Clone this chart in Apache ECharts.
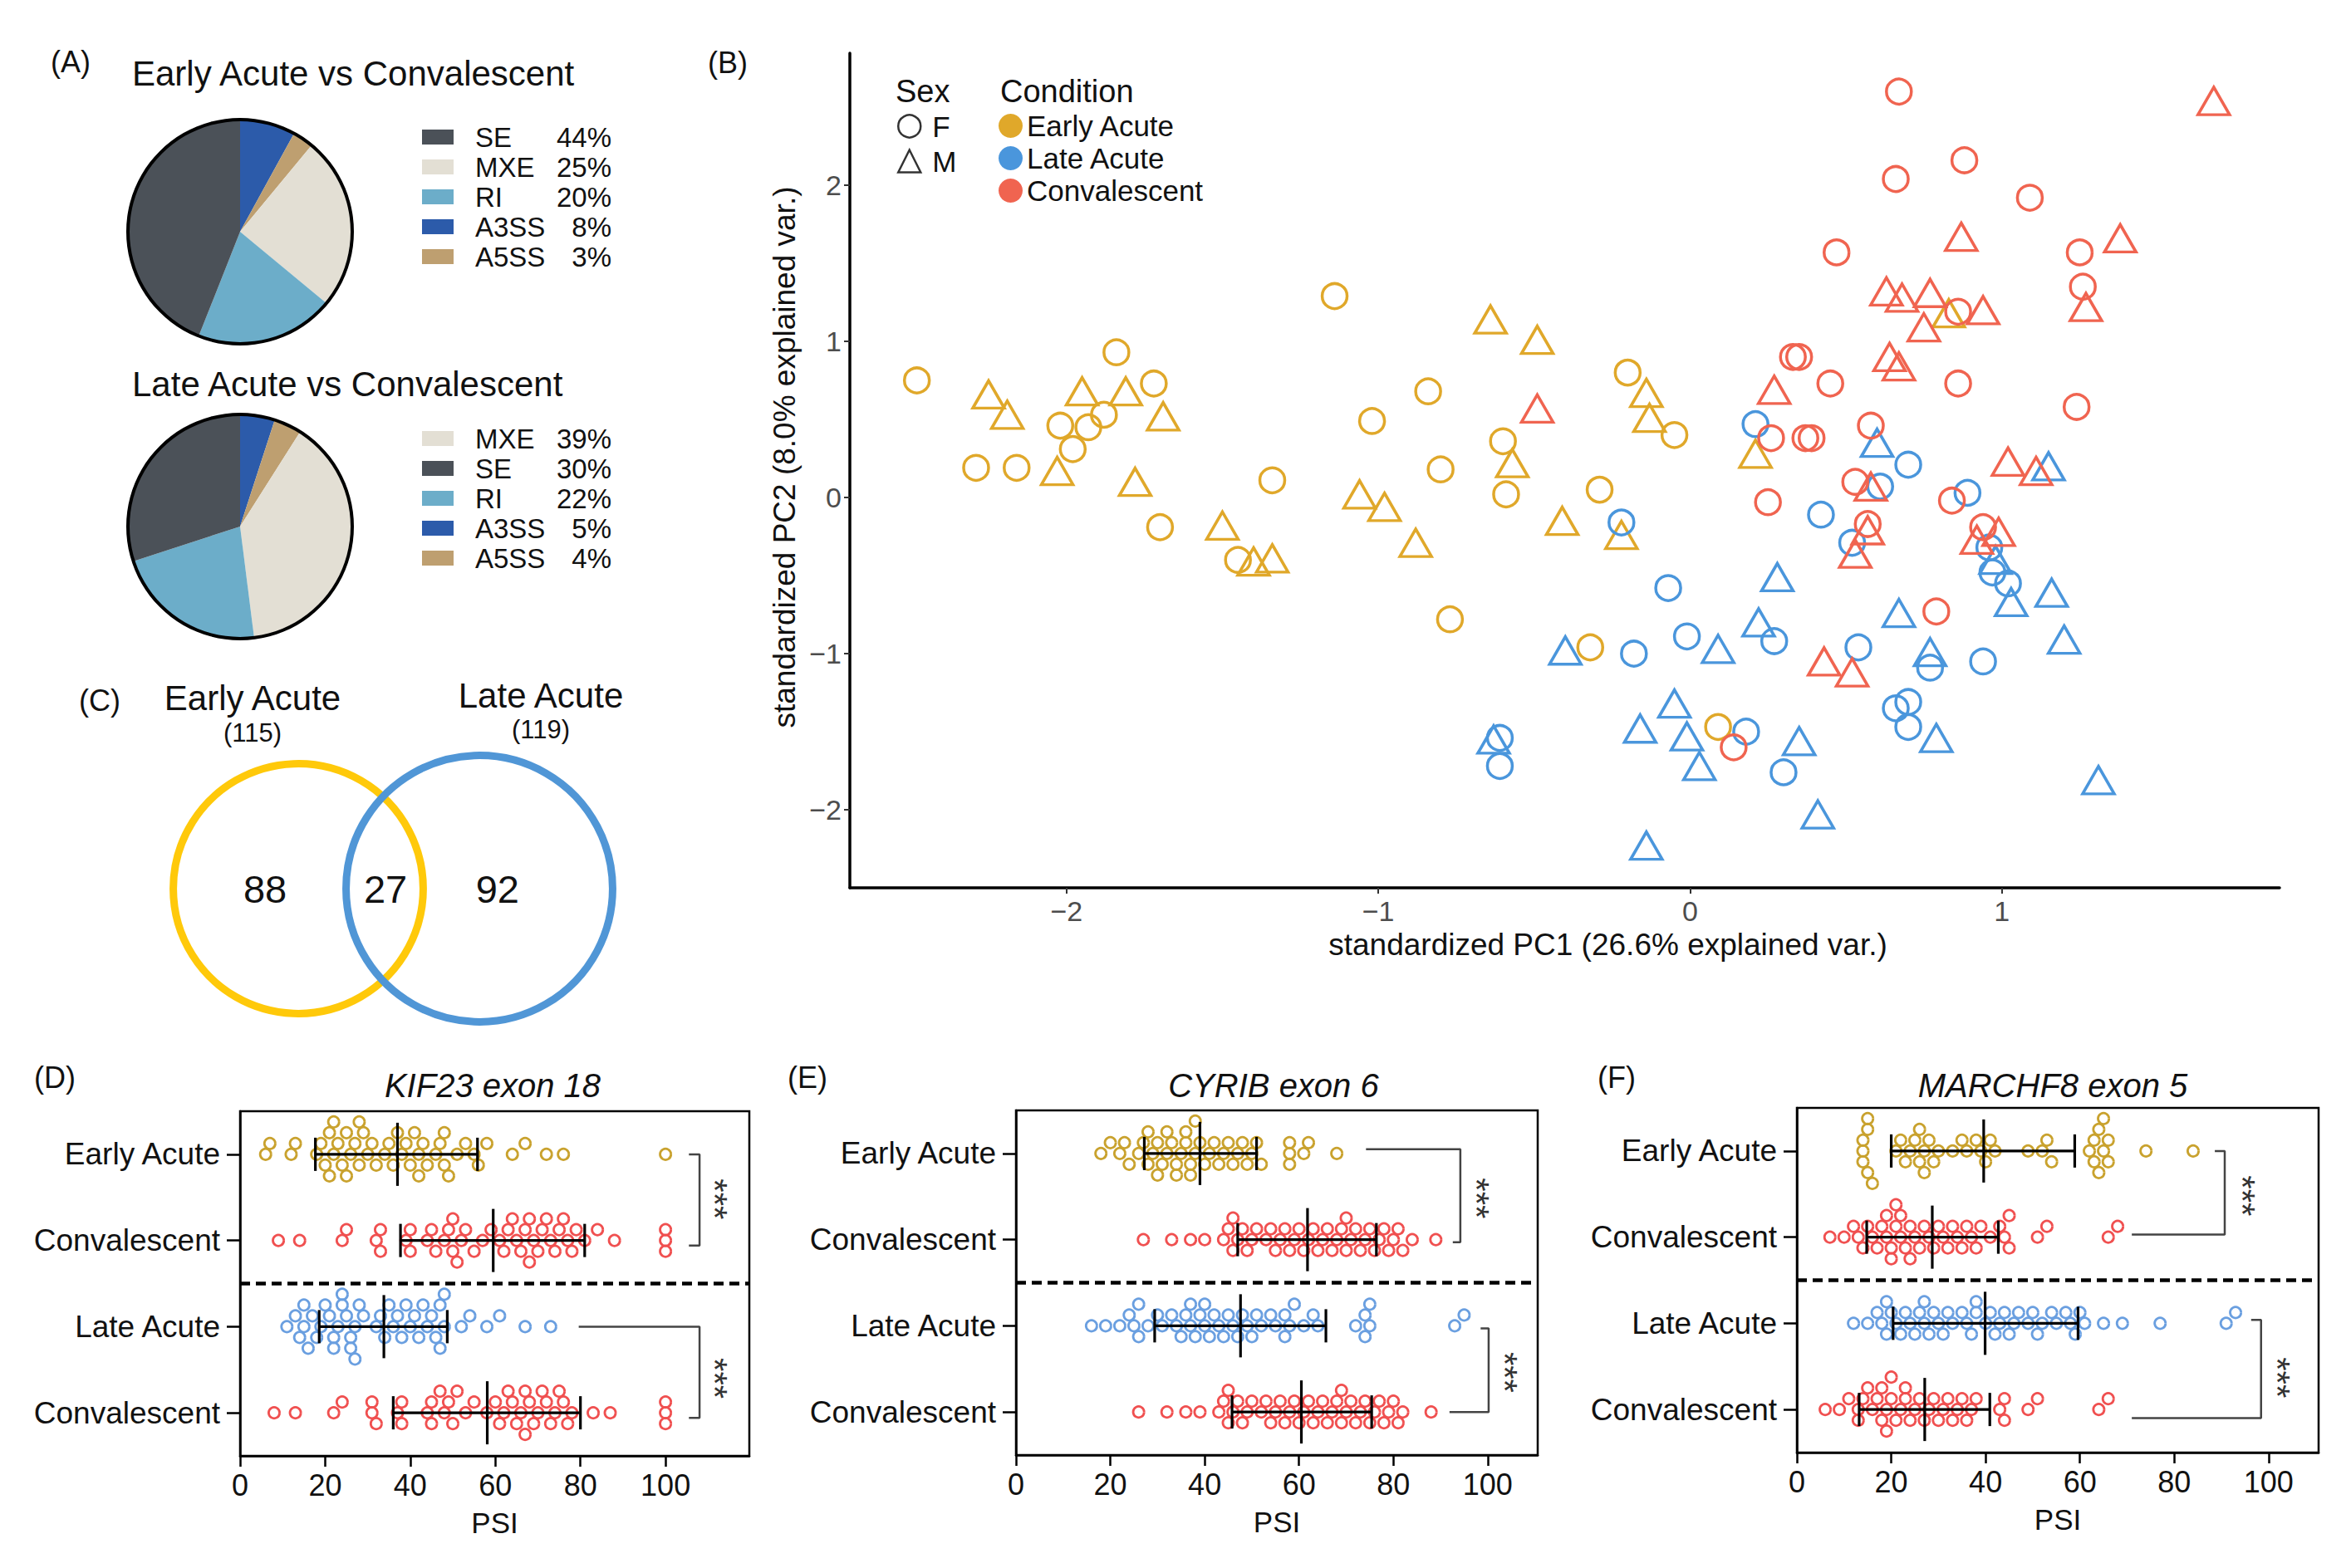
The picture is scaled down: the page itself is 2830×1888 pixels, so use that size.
<!DOCTYPE html>
<html>
<head>
<meta charset="utf-8">
<title>Figure</title>
<script src="https://cdn.jsdelivr.net/npm/echarts@6.0.0/dist/echarts.min.js"></script>
<style>
html,body{margin:0;padding:0;background:#ffffff;}
#chart{width:2830px;height:1888px;}
</style>
</head>
<body>
<div id="chart"></div>
<script>
// ================= DATA =================
// (A) splicing event types, slice order clockwise from 12 o'clock
const spliceTypes = ['A3SS', 'A5SS', 'MXE', 'RI', 'SE'];
const earlyVsConvPct = [8, 3, 25, 20, 44];
const lateVsConvPct = [5, 4, 39, 22, 30];
const legendOrderEarly = ['SE', 'MXE', 'RI', 'A3SS', 'A5SS'];
const legendOrderLate = ['MXE', 'SE', 'RI', 'A3SS', 'A5SS'];

// (B) PCA
const conditions = ['Early Acute', 'Late Acute', 'Convalescent'];
const sexes = ['F', 'M'];
const pcaXTicks = [-2, -1, 0, 1];
const pcaYTicks = [-2, -1, 0, 1, 2];
const earlyAcuteF = [[-2.48,0.75],[-1.84,0.93],[-1.72,0.73],[-2.02,0.46],[-1.93,0.45],[-1.88,0.53],[-1.98,0.31],[-2.29,0.19],[-2.16,0.19],[-1.14,1.29],[-0.84,0.68],[-1.02,0.49],[-1.34,0.11],[-0.80,0.18],[-0.60,0.36],[-0.59,0.02],[-1.70,-0.19],[-1.45,-0.40],[-0.77,-0.78],[-0.20,0.80],[-0.05,0.40],[-0.29,0.05],[-0.32,-0.96],[0.09,-1.47]];
const earlyAcuteM = [[-2.25,0.66],[-2.19,0.53],[-1.95,0.68],[-1.81,0.68],[-1.69,0.52],[-2.03,0.17],[-1.78,0.10],[-0.64,1.14],[-0.49,1.01],[-0.57,0.22],[-1.50,-0.18],[-1.40,-0.41],[-1.34,-0.39],[-1.06,0.02],[-0.98,-0.06],[-0.88,-0.29],[-0.41,-0.15],[-0.14,0.67],[-0.13,0.51],[0.21,0.28],[0.83,1.18],[-0.22,-0.24]];
const lateAcuteF = [[-0.22,-0.16],[-0.07,-0.58],[0.42,-0.11],[0.52,-0.29],[0.61,0.07],[0.70,0.21],[0.89,0.03],[0.96,-0.32],[0.97,-0.48],[1.02,-0.55],[0.54,-0.96],[0.77,-1.09],[0.94,-1.05],[-0.01,-0.89],[-0.18,-1.00],[0.27,-0.92],[0.18,-1.50],[0.30,-1.76],[0.66,-1.35],[0.70,-1.31],[0.70,-1.47],[-0.61,-1.54],[-0.61,-1.72],[0.21,0.47]];
const lateAcuteM = [[0.28,-0.51],[0.98,-0.40],[1.03,-0.67],[1.16,-0.61],[1.20,-0.91],[1.15,0.20],[0.67,-0.74],[0.77,-0.99],[0.09,-0.97],[0.22,-0.80],[-0.05,-1.32],[-0.16,-1.48],[-0.01,-1.53],[0.03,-1.72],[0.35,-1.56],[0.79,-1.54],[1.31,-1.81],[0.41,-2.03],[-0.14,-2.23],[-0.40,-0.98],[-0.63,-1.55],[0.60,0.35]];
const convalescentF = [[0.67,2.60],[0.88,2.16],[0.66,2.04],[1.09,1.92],[0.47,1.57],[1.25,1.57],[1.26,1.35],[0.86,1.19],[0.33,0.90],[0.35,0.90],[0.45,0.73],[0.86,0.73],[1.24,0.58],[0.26,0.38],[0.37,0.38],[0.39,0.38],[0.58,0.46],[0.53,0.10],[0.25,-0.03],[0.84,-0.02],[0.57,-0.17],[0.94,-0.19],[0.79,-0.73],[0.14,-1.60]];
const convalescentM = [[1.68,2.54],[0.87,1.67],[1.38,1.66],[1.27,1.22],[0.63,1.32],[0.68,1.28],[0.77,1.31],[0.75,1.09],[0.94,1.20],[0.64,0.90],[0.67,0.84],[0.27,0.69],[1.02,0.23],[1.11,0.17],[0.58,0.07],[0.57,-0.21],[0.53,-0.36],[0.99,-0.22],[0.92,-0.27],[0.43,-1.05],[0.52,-1.12],[-0.49,0.57]];

// (C) Venn
const vennSets = ['Early Acute', 'Late Acute'];
const vennTotals = [115, 119];
const vennCounts = [88, 27, 92]; // early only, shared, late only

// (D)(E)(F) PSI dot plots
const dotCategories = ['Early Acute', 'Convalescent', 'Late Acute', 'Convalescent'];
const psiTicks = [0, 20, 40, 60, 80, 100];
const sigLabels = ['***', '***'];

const kif23EarlyAcute = [6,7,12,13,18,19,20,21,21,22,22,23,24,25,25,26,27,28,28,29,30,31,32,34,35,36,37,38,39,40,41,42,42,43,44,46,47,48,48,49,51,53,55,56,58,64,67,72,76,100];
const kif23ConvA = [9,14,24,25,32,33,33,39,40,40,44,45,46,48,49,50,50,51,52,53,55,57,59,61,62,63,64,65,66,67,68,68,69,70,71,72,73,74,75,76,77,78,79,81,84,88,100,100,100];
const kif23LateAcute = [11,13,14,15,15,16,17,18,19,20,21,22,22,23,24,24,25,26,26,27,27,28,29,32,33,34,35,36,37,38,39,40,41,42,43,44,45,46,47,47,48,48,52,54,58,61,67,73];
const kif23ConvB = [8,13,22,24,31,31,32,37,38,38,44,45,45,47,48,49,50,51,53,55,58,60,61,62,63,64,65,66,67,67,68,69,70,71,72,73,74,75,76,77,78,83,87,100,100,100];
const kif23Stats = [[37,17.7,55.8],[59.5,37.7,81],[33.8,18.6,48.7],[58.1,36,80]]; // mean, mean-SD, mean+SD

const cyribEarlyAcute = [18,20,22,23,24,26,27,28,28,29,30,30,31,32,32,33,34,34,35,36,36,37,37,38,38,39,40,41,42,43,44,45,46,47,48,49,50,51,52,58,58,58,61,62,68];
const cyribConvA = [27,33,37,40,44,45,46,46,47,48,49,50,51,53,54,55,56,57,58,59,60,61,62,63,64,65,66,67,68,69,70,70,71,72,73,74,75,76,77,78,79,80,81,82,84,89];
const cyribLateAcute = [16,19,22,24,25,26,26,28,30,31,33,34,35,36,37,37,38,39,40,40,41,42,43,44,45,46,47,48,49,50,51,52,54,55,57,57,58,59,61,63,64,72,74,74,75,75,93,95];
const cyribConvB = [26,32,36,39,43,44,45,45,46,47,48,49,50,52,53,54,55,56,57,58,59,60,61,62,63,64,65,66,67,68,69,69,70,71,72,73,74,75,76,77,78,79,80,81,82,88];
const cyribStats = [[39,27.2,51],[61.8,47,76.4],[47.6,29.4,65.7],[60.5,45.8,75.4]];

const marchf8EarlyAcute = [14,14,14,15,15,15,16,21,22,23,24,25,26,26,27,27,28,29,30,33,35,36,38,39,40,41,42,49,52,53,54,62,63,63,64,64,65,65,66,66,74,84];
const marchf8ConvA = [7,10,12,13,14,15,16,17,18,19,19,20,20,21,21,22,22,23,24,24,25,26,27,28,29,30,31,32,33,34,35,36,37,38,39,41,43,44,45,45,51,53,66,68];
const marchf8LateAcute = [12,15,17,18,19,19,20,21,22,23,24,25,26,27,27,28,29,30,31,32,33,35,36,37,38,38,40,41,42,43,44,45,46,47,49,50,51,52,54,55,57,58,59,60,61,65,69,77,91,93];
const marchf8ConvB = [6,9,11,13,13,14,15,16,17,18,18,19,19,20,20,21,22,23,23,24,25,26,27,28,29,30,31,32,33,34,35,36,37,38,43,44,44,49,51,64,66];
const marchf8Stats = [[39.6,20,58.9],[28.7,14.8,42.7],[39.9,20.4,59.6],[27.1,13.2,40.9]];

// ================= LAYOUT & STYLE =================
const FONT = "'Liberation Sans', Arial, Helvetica, sans-serif";
const INK = '#111111';
const pieColors = { SE: '#4B5158', MXE: '#E3DFD4', RI: '#6CADC9', A3SS: '#2C5BAA', A5SS: '#BE9F70' };
const pcaColors = ['#E0A82A', '#4A96DC', '#F06450'];
const dotColors = ['#C9A22E', '#F05050', '#6A9FE0', '#F05050'];
const vennColors = ['#FFC90A', '#5096D6'];

const panels = [
  { title: 'KIF23 exon 18', titleX: 593, label: '(D)', labelX: 66, grid: { left: 289, top: 1338, width: 613, height: 415 }, max: 119.7,
    groups: [kif23EarlyAcute, kif23ConvA, kif23LateAcute, kif23ConvB], stats: kif23Stats,
    brackets: [[[105.5,0],[108,0],[108,1.06],[105.5,1.06]], [[79.6,2],[108,2],[108,3.06],[105.5,3.06]]],
    stars: [[111.5,0.52],[111.5,2.6]] },
  { title: 'CYRIB exon 6', titleX: 1533, label: '(E)', labelX: 972, grid: { left: 1223, top: 1337, width: 628, height: 415 }, max: 110.6,
    groups: [cyribEarlyAcute, cyribConvA, cyribLateAcute, cyribConvB], stats: cyribStats,
    brackets: [[[74.2,-0.05],[94.2,-0.05],[94.2,1.03],[92.6,1.03]], [[98.5,2.03],[100.2,2.03],[100.2,3.0],[91.9,3.0]]],
    stars: [[97.7,0.52],[103.6,2.54]] },
  { title: 'MARCHF8 exon 5', titleX: 2471, label: '(F)', labelX: 1946, grid: { left: 2163, top: 1334, width: 628, height: 415 }, max: 110.6,
    groups: [marchf8EarlyAcute, marchf8ConvA, marchf8LateAcute, marchf8ConvB], stats: marchf8Stats,
    brackets: [[[88.6,0],[90.7,0],[90.7,0.97],[71,0.97]], [[96.3,1.96],[98.4,1.96],[98.4,3.1],[71,3.1]]],
    stars: [[94.4,0.52],[101.8,2.63]] }
];

const DOT_R = 6.6, ROW_STEP = 13, MIN_GAP = 16.5;
const VENN_R = [0.690, 0.736];       // radius in axis units
const VENN_COUNT_X = [-0.183, 0.482, 1.10];

// beeswarm-style vertical spreading of points with (nearly) equal values
function swarm(vals, pxPerUnit) {
  const order = vals.map((v, i) => i).sort((a, b) => vals[a] - vals[b]);
  const lastInRow = {};
  const offs = new Array(vals.length).fill(0);
  order.forEach(i => {
    const x = vals[i] * pxPerUnit;
    for (let k = 0; k < 40; k++) {
      const r = k === 0 ? 0 : (k % 2 ? -Math.ceil(k / 2) : Math.ceil(k / 2));
      const last = lastInRow[r];
      if (last === undefined || x - last >= MIN_GAP) { lastInRow[r] = x; offs[i] = r; break; }
    }
  });
  return offs;
}

function minusFmt(v) { return v < 0 ? '\u2212' + Math.abs(v) : String(v); }

function txt(x, y, text, size, align, italic) {
  return { type: 'text', x: x, y: y, silent: true, z: 10,
    style: { text: text, fontSize: size, fontFamily: FONT, fill: INK, fontStyle: italic ? 'italic' : 'normal',
      align: align || 'left', verticalAlign: 'middle', textAlign: align || 'left', textVerticalAlign: 'middle' } };
}

const chart = echarts.init(document.getElementById('chart'), null, { renderer: 'svg', width: 2830, height: 1888 });

const grids = [], xAxes = [], yAxes = [], series = [], legends = [];

// ---------- (A) pies ----------
function addPie(center, pct) {
  series.push({ type: 'pie', center: center, radius: [0, 134], startAngle: 90, clockwise: true, silent: true,
    label: { show: false }, labelLine: { show: false }, emphasis: { disabled: true }, itemStyle: { borderWidth: 0 },
    data: spliceTypes.map((n, i) => ({ name: n, value: pct[i], itemStyle: { color: pieColors[n] } })) });
  series.push({ type: 'pie', center: center, radius: [133, 137], silent: true, label: { show: false }, labelLine: { show: false },
    emphasis: { disabled: true }, data: [{ name: 'outline', value: 1, itemStyle: { color: '#000' } }] });
}
addPie([289, 279], earlyVsConvPct);
addPie([289, 634], lateVsConvPct);

function pieLegend(top, order, pct) {
  return { orient: 'vertical', left: 508, top: top, padding: 0, itemWidth: 38, itemHeight: 18, itemGap: 0, icon: 'rect',
    selectedMode: false, data: order,
    formatter: name => '{n|' + name + '}{p|' + pct[spliceTypes.indexOf(name)] + '%}',
    textStyle: { fontFamily: FONT, fontSize: 33, color: INK, lineHeight: 36,
      rich: { n: { width: 100, padding: [0, 0, 0, 21], fontSize: 33, fontFamily: FONT, color: INK, lineHeight: 36 },
              p: { width: 64, align: 'right', fontSize: 33, fontFamily: FONT, color: INK, lineHeight: 36 } } } };
}
legends.push(pieLegend(147, legendOrderEarly, earlyVsConvPct));
legends.push(pieLegend(510, legendOrderLate, lateVsConvPct));

// ---------- (B) PCA ----------
grids.push({ left: 1023, top: 64, width: 1721, height: 1005, outerBoundsMode: 'none', containLabel: false });
xAxes.push({ gridIndex: 0, type: 'value', min: -2.695, max: 1.891,
  axisLine: { show: true, onZero: false, lineStyle: { color: '#000', width: 3.5 } },
  axisTick: { show: true, customValues: pcaXTicks, length: 7, lineStyle: { color: '#333', width: 2 } },
  axisLabel: { show: true, customValues: pcaXTicks, formatter: minusFmt, fontSize: 34, fontFamily: FONT, color: '#4D4D4D', margin: 11 },
  splitLine: { show: false },
  name: 'standardized PC1 (26.6% explained var.)', nameLocation: 'middle', nameGap: 49,
  nameTextStyle: { fontSize: 37, fontFamily: FONT, color: INK, padding: [0, 0, 0, 104] } });
yAxes.push({ gridIndex: 0, type: 'value', min: -2.5, max: 2.846,
  axisLine: { show: true, onZero: false, lineStyle: { color: '#000', width: 3.5 } },
  axisTick: { show: true, customValues: pcaYTicks, length: 7, lineStyle: { color: '#333', width: 2 } },
  axisLabel: { show: true, customValues: pcaYTicks, formatter: minusFmt, fontSize: 34, fontFamily: FONT, color: '#4D4D4D', margin: 10 },
  splitLine: { show: false },
  name: 'standardized PC2 (8.0% explained var.)', nameLocation: 'middle', nameGap: 58,
  nameTextStyle: { fontSize: 37, fontFamily: FONT, color: INK, padding: [0, 0, 0, 32] } });

const pcaSets = [[earlyAcuteF, earlyAcuteM], [lateAcuteF, lateAcuteM], [convalescentF, convalescentM]];
pcaSets.forEach((set, ci) => {
  const data = set[0].map(p => ({ value: p, symbol: 'circle', symbolSize: 30 }))
    .concat(set[1].map(p => ({ value: p, symbol: 'triangle', symbolSize: [38, 33] })));
  series.push({ type: 'scatter', name: conditions[ci], xAxisIndex: 0, yAxisIndex: 0, data: data, z: 3,
    itemStyle: { color: 'rgba(0,0,0,0)', borderColor: pcaColors[ci], borderWidth: 3.5, opacity: 1 },
    emphasis: { disabled: true }, silent: true });
});
sexes.forEach((s, i) => {
  series.push({ type: 'scatter', name: s, xAxisIndex: 0, yAxisIndex: 0, data: [], symbol: i === 0 ? 'circle' : 'triangle',
    itemStyle: { color: 'rgba(0,0,0,0)', borderColor: '#000', borderWidth: 2.5 } });
});
legends.push({ orient: 'vertical', left: 1202, top: 132, padding: 0, itemWidth: 29, itemHeight: 29, itemGap: 0,
  selectedMode: false, icon: 'circle',
  data: conditions.map((c, i) => ({ name: c, icon: 'circle', itemStyle: { color: pcaColors[i], borderWidth: 0 } })),
  textStyle: { fontFamily: FONT, fontSize: 35, color: INK, lineHeight: 39 } });
legends.push({ orient: 'vertical', left: 1080, top: 131, padding: 0, itemWidth: 27, itemHeight: 27, itemGap: 0,
  selectedMode: false,
  data: sexes.map((s, i) => ({ name: s, icon: i === 0 ? 'circle' : 'triangle',
    itemStyle: { color: 'rgba(0,0,0,0)', borderColor: '#000', borderWidth: 2.5 } })),
  formatter: n => '{t|' + n + '}',
  textStyle: { fontFamily: FONT, fontSize: 35, color: INK, lineHeight: 42,
    rich: { t: { padding: [0, 0, 0, 9], fontSize: 35, fontFamily: FONT, color: INK, lineHeight: 42 } } } });

// ---------- (D)(E)(F) dot plots ----------
panels.forEach((pn, pi) => {
  const g = grids.length;
  grids.push(Object.assign({ show: true, borderColor: '#000', borderWidth: 2.5, backgroundColor: 'rgba(0,0,0,0)',
    outerBoundsMode: 'none', containLabel: false }, pn.grid));
  xAxes.push({ gridIndex: g, type: 'value', min: 0, max: pn.max,
    axisLine: { show: true, onZero: false, lineStyle: { color: '#000', width: 2.5 } },
    axisTick: { show: true, customValues: psiTicks, length: 13, lineStyle: { color: '#000', width: 2.5 } },
    axisLabel: { show: true, customValues: psiTicks, fontSize: 36, fontFamily: FONT, color: INK, margin: 17 },
    splitLine: { show: false },
    name: 'PSI', nameLocation: 'middle', nameGap: 63, nameTextStyle: { fontSize: 35, fontFamily: FONT, color: INK } });
  yAxes.push({ gridIndex: g, type: 'value', inverse: true, min: -0.5, max: 3.5,
    axisLine: { show: true, onZero: false, lineStyle: { color: '#000', width: 2.5 } },
    axisTick: { show: true, customValues: [0, 1, 2, 3], length: 16, lineStyle: { color: '#000', width: 2.5 } },
    axisLabel: { show: true, customValues: [0, 1, 2, 3], formatter: v => dotCategories[Math.round(v)],
      fontSize: 37, fontFamily: FONT, color: INK, margin: 24 },
    splitLine: { show: false } });

  const pxPerUnit = pn.grid.width / pn.max;
  const dots = [];
  pn.groups.forEach((vals, row) => {
    const offs = swarm(vals, pxPerUnit);
    vals.forEach((v, i) => dots.push([v, row, offs[i]]));
  });
  series.push({ type: 'custom', xAxisIndex: g, yAxisIndex: g, data: dots, z: 2, silent: true,
    encode: { x: 0, y: 1 },
    renderItem: (params, api) => {
      const row = api.value(1);
      const p = api.coord([api.value(0), row]);
      return { type: 'circle', shape: { cx: p[0], cy: p[1] + api.value(2) * ROW_STEP, r: DOT_R },
        style: { fill: 'none', stroke: dotColors[row], lineWidth: 2.8 } };
    } });
  // mean +/- SD
  series.push({ type: 'custom', xAxisIndex: g, yAxisIndex: g, z: 4, silent: true,
    data: pn.stats.map((s, row) => [s[0], row, s[1], s[2]]),
    encode: { x: [0, 2, 3], y: 1 },
    renderItem: (params, api) => {
      const row = api.value(1);
      const m = api.coord([api.value(0), row]);
      const lo = api.coord([api.value(2), row]);
      const hi = api.coord([api.value(3), row]);
      const st = { stroke: '#000', lineWidth: 3.2 };
      return { type: 'group', children: [
        { type: 'line', shape: { x1: lo[0], y1: lo[1], x2: hi[0], y2: hi[1] }, style: st },
        { type: 'line', shape: { x1: m[0], y1: m[1] - 38, x2: m[0], y2: m[1] + 38 }, style: st },
        { type: 'line', shape: { x1: lo[0], y1: lo[1] - 20, x2: lo[0], y2: lo[1] + 20 }, style: st },
        { type: 'line', shape: { x1: hi[0], y1: hi[1] - 20, x2: hi[0], y2: hi[1] + 20 }, style: st } ] };
    } });
  // dashed divider between the two comparisons
  series.push({ type: 'line', xAxisIndex: g, yAxisIndex: g, data: [[0, 1.5], [pn.max, 1.5]], symbol: 'none', silent: true, z: 3,
    lineStyle: { color: '#000', width: 4.5, type: [12, 7] } });
  // significance brackets
  pn.brackets.forEach(b => {
    series.push({ type: 'line', xAxisIndex: g, yAxisIndex: g, data: b, symbol: 'none', silent: true, z: 3,
      lineStyle: { color: '#444', width: 2.5 } });
  });
  series.push({ type: 'custom', xAxisIndex: g, yAxisIndex: g, z: 5, silent: true,
    data: pn.stars.map((s, i) => [s[0], s[1], i]),
    renderItem: (params, api) => {
      const p = api.coord([api.value(0), api.value(1)]);
      return { type: 'text', x: p[0], y: p[1], rotation: -Math.PI / 2,
        style: { text: sigLabels[api.value(2)], fontSize: 42, fontFamily: FONT, fill: '#333',
          align: 'center', verticalAlign: 'middle', textAlign: 'center', textVerticalAlign: 'middle' } };
    } });
});

// ---------- (C) Venn ----------
const vg = grids.length;
grids.push({ left: 141, top: 900, width: 654, height: 340, outerBoundsMode: 'none', containLabel: false });
xAxes.push({ gridIndex: vg, type: 'value', min: -1, max: 2, show: false });
yAxes.push({ gridIndex: vg, type: 'value', min: -1, max: 1, show: false });
series.push({ type: 'custom', xAxisIndex: vg, yAxisIndex: vg, silent: true, z: 2,
  data: vennTotals.map((t, i) => [i, 0, t]),
  renderItem: (params, api) => {
    const i = params.dataIndex;
    const c = api.coord([api.value(0), api.value(1)]);
    const r = api.size([VENN_R[i], 0])[0];
    return { type: 'circle', shape: { cx: c[0], cy: c[1], r: r }, style: { fill: 'none', stroke: vennColors[i], lineWidth: 9 } };
  } });
series.push({ type: 'custom', xAxisIndex: vg, yAxisIndex: vg, silent: true, z: 3,
  data: vennCounts.map((n, i) => [VENN_COUNT_X[i], 0, n]),
  renderItem: (params, api) => {
    const c = api.coord([api.value(0), api.value(1)]);
    return { type: 'text', x: c[0], y: c[1],
      style: { text: String(api.value(2)), fontSize: 47, fontFamily: FONT, fill: INK,
        align: 'center', verticalAlign: 'middle', textAlign: 'center', textVerticalAlign: 'middle' } };
  } });

// ---------- texts ----------
const graphics = [
  txt(85, 74, '(A)', 36, 'center'),
  txt(159, 88, 'Early Acute vs Convalescent', 42),
  txt(159, 462, 'Late Acute vs Convalescent', 42),
  txt(876, 75, '(B)', 36, 'center'),
  txt(1078, 110, 'Sex', 38),
  txt(1204, 110, 'Condition', 38),
  txt(120, 843, '(C)', 36, 'center'),
  txt(304, 840, vennSets[0], 42, 'center'),
  txt(304, 882, '(' + vennTotals[0] + ')', 31, 'center'),
  txt(651, 837, vennSets[1], 42, 'center'),
  txt(651, 878, '(' + vennTotals[1] + ')', 31, 'center')
];
panels.forEach(pn => {
  graphics.push(txt(pn.labelX, 1297, pn.label, 36, 'center'));
  graphics.push(txt(pn.titleX, 1307, pn.title, 40, 'center', true));
});

chart.setOption({
  animation: false,
  backgroundColor: '#ffffff',
  textStyle: { fontFamily: FONT },
  tooltip: { show: false },
  grid: grids,
  xAxis: xAxes,
  yAxis: yAxes,
  legend: legends,
  series: series,
  graphic: graphics
});
</script>
</body>
</html>
